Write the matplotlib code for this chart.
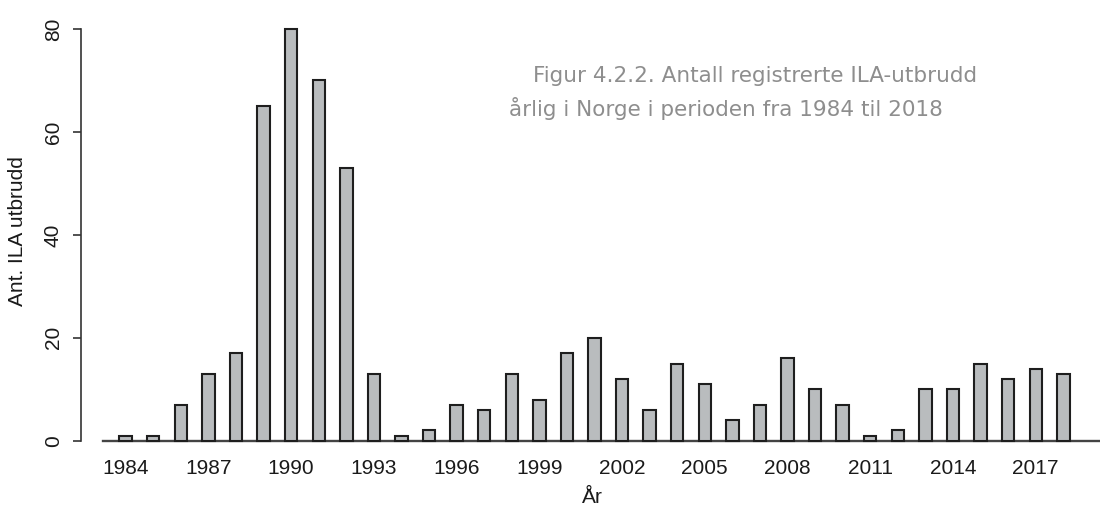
import numpy as np
import matplotlib.pyplot as plt

# ILA-utbrudd per år
years = list(range(1984, 2019))
utbrudd = [1, 1, 7, 13, 17, 65, 80, 70, 53, 13, 1, 2, 7, 6, 13, 8, 17, 20, 12, 6,
           15, 11, 4, 7, 16, 10, 7, 1, 2, 10, 10, 15, 12, 14, 13]
tick_years = years[::3]
yticks = [0, 20, 40, 60, 80]

W, H = 1100, 511
fig = plt.figure(figsize=(W / 100, H / 100), dpi=100)
ax = fig.add_axes([81 / W, 70.3 / H, (W - 81) / W, 411.7 / H])

x = np.arange(len(years))
ax.bar(x, utbrudd, width=0.45, color='#b9bcbe', edgecolor='#1e1e1e',
       linewidth=1.5, clip_on=False, zorder=3)

ax.set_xlim(-1.62, 35.33)
ax.set_ylim(0, 80)

for s in ['top', 'right']:
    ax.spines[s].set_visible(False)
ax.spines['left'].set_bounds(0, 80)
ax.spines['left'].set_color('#333333')
ax.spines['left'].set_linewidth(1.2)
ax.spines['bottom'].set_bounds(-0.82, 35.33)
ax.spines['bottom'].set_color('#444444')
ax.spines['bottom'].set_linewidth(1.7)

ax.set_xticks([years.index(y) for y in tick_years])
ax.set_xticklabels([str(y) for y in tick_years])
ax.tick_params(axis='x', length=0, pad=13, labelsize=15, labelcolor='#1a1a1a')
ax.set_yticks(yticks)
ax.set_yticklabels([str(v) for v in yticks], rotation=90, va='center')
ax.tick_params(axis='y', length=6, width=1.2, pad=7, labelsize=15,
               labelcolor='#1a1a1a', color='#333333')
for lab in ax.get_xticklabels() + ax.get_yticklabels():
    lab.set_family('Liberation Sans')

ax.set_ylabel('Ant. ILA utbrudd', fontsize=15, family='Liberation Sans', color='#1a1a1a')
ax.yaxis.set_label_coords(-54 / (W - 81), 0.51)
fig.text(592 / W, 14 / H, 'År', fontsize=15, family='Liberation Sans',
         color='#1a1a1a', ha='center', va='center')

fig.text(533 / W, 1 - 76 / H, 'Figur 4.2.2. Antall registrerte ILA-utbrudd',
         fontsize=15.5, family='DejaVu Sans', color='#8e8e8e', va='center')
fig.text(509 / W, 1 - 109 / H, 'årlig i Norge i perioden fra 1984 til 2018',
         fontsize=15.5, family='DejaVu Sans', color='#8e8e8e', va='center')

fig.savefig('out.png', dpi=100)
